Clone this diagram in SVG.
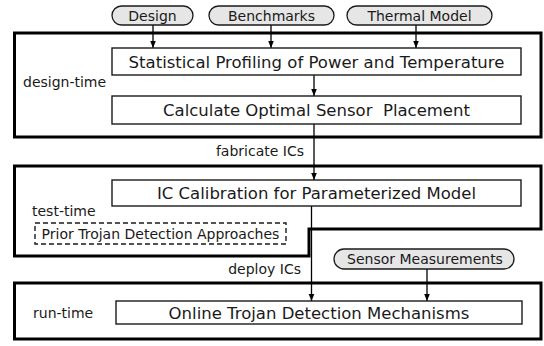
<svg xmlns="http://www.w3.org/2000/svg" width="544" height="346" viewBox="0 0 544 346">
<style>
text{font-family:"DejaVu Sans","Liberation Sans",sans-serif;fill:#1a1a1a}
.big{font-size:16.5px;text-anchor:middle}
.sm{font-size:14px}
.pt{font-size:14px;text-anchor:middle}
.stage{fill:none;stroke:#000;stroke-width:3}
.box{fill:#fff;stroke:#1a1a1a;stroke-width:1.4}
.pill{fill:#e6e6e6;stroke:#1a1a1a;stroke-width:1.3}
.dash{fill:none;stroke:#1a1a1a;stroke-width:1.4;stroke-dasharray:5,3}
.conn{fill:none;stroke:#000;stroke-width:1.3;marker-end:url(#ah)}
</style>
<defs>
<marker id="ah" viewBox="0 0 10 10" refX="10" refY="5" markerWidth="7" markerHeight="7" markerUnits="userSpaceOnUse" orient="auto">
<path d="M0,1 L10,5 L0,9 Z" fill="#000"/>
</marker>
</defs>
<rect width="544" height="346" fill="#fff"/>
<g id="stage-design">
<rect class="stage" x="14.5" y="33" width="526.5" height="104"/>
<text class="sm" x="23" y="87">design-time</text>
</g>
<g id="stage-test">
<path class="stage" d="M14.5,166 H541 V229 H309 V256 H14.5 Z"/>
<text class="sm" x="32" y="216">test-time</text>
</g>
<g id="stage-run">
<rect class="stage" x="14.5" y="283" width="526.5" height="56"/>
<text class="sm" x="33" y="318">run-time</text>
</g>
<g id="connectors">
<path class="conn" d="M153,25 V48"/>
<path class="conn" d="M271,25 V48"/>
<path class="conn" d="M416,25 V48"/>
<path class="conn" d="M314,75 V96"/>
<path class="conn" d="M314,124 V180"/>
<path class="conn" d="M311.5,206 V301"/>
<path class="conn" d="M427,269 V301"/>
<text class="sm" x="304" y="156" text-anchor="end">fabricate ICs</text>
<text class="sm" x="301" y="274" text-anchor="end">deploy ICs</text>
</g>
<g id="design">
<rect class="pill" x="112" y="6" width="81" height="19" rx="9.5"/>
<text class="pt" x="152.5" y="20.5">Design</text>
</g>
<g id="benchmarks">
<rect class="pill" x="209" y="6" width="125" height="19" rx="9.5"/>
<text class="pt" x="271.5" y="20.5">Benchmarks</text>
</g>
<g id="thermal-model">
<rect class="pill" x="347" y="6" width="145" height="19" rx="9.5"/>
<text class="pt" x="419.5" y="20.5">Thermal Model</text>
</g>
<g id="statistical-profiling">
<rect class="box" x="112" y="48" width="409" height="27"/>
<text class="big" x="316.5" y="67.5">Statistical Profiling of Power and Temperature</text>
</g>
<g id="sensor-placement">
<rect class="box" x="112" y="96" width="409" height="28"/>
<text class="big" x="316.5" y="116" xml:space="preserve" style="white-space:pre">Calculate Optimal Sensor  Placement</text>
</g>
<g id="ic-calibration">
<rect class="box" x="112" y="180" width="409" height="26"/>
<text class="big" x="316.5" y="199">IC Calibration for Parameterized Model</text>
</g>
<g id="prior-approaches">
<rect class="dash" x="35" y="223" width="251" height="21"/>
<text class="pt" x="160.5" y="238.5">Prior Trojan Detection Approaches</text>
</g>
<g id="sensor-measurements">
<rect class="pill" x="334" y="249" width="180" height="20" rx="10"/>
<text class="pt" x="425" y="264">Sensor Measurements</text>
</g>
<g id="online-detection">
<rect class="box" x="116" y="301" width="406" height="23"/>
<text class="big" x="319" y="318.5">Online Trojan Detection Mechanisms</text>
</g>
</svg>
